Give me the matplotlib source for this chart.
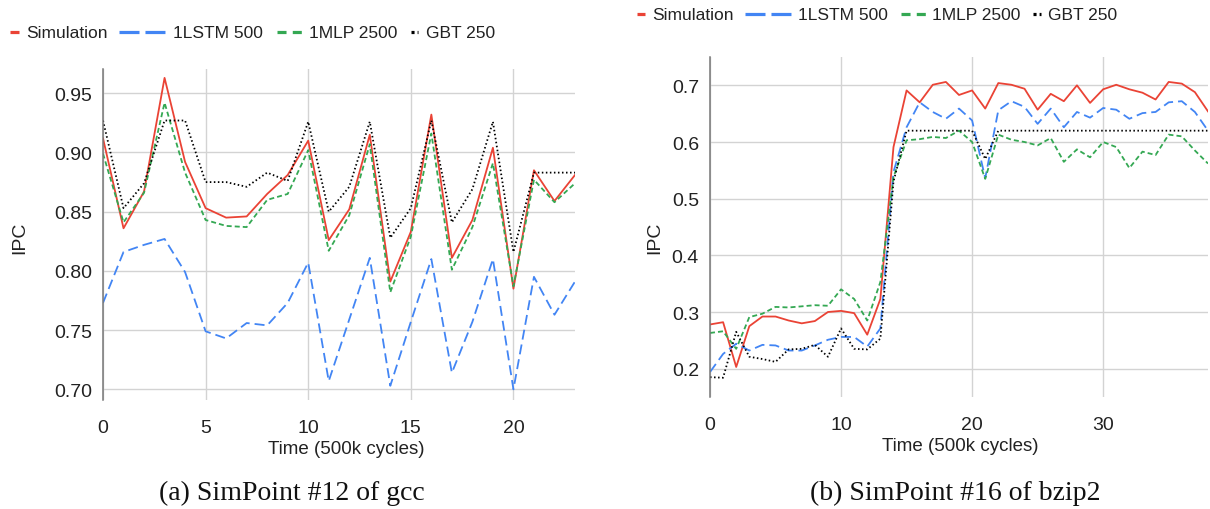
import numpy as np
import matplotlib
matplotlib.use("Agg")
import matplotlib.pyplot as plt
from matplotlib.lines import Line2D
from matplotlib.ticker import FormatStrFormatter

plt.rcParams['font.family'] = ['Liberation Sans', 'DejaVu Sans']
plt.rcParams['lines.scale_dashes'] = False

# (a) SimPoint #12 of gcc
gcc_t = list(range(24))
gcc_sim = [0.912, 0.836, 0.867, 0.963, 0.892, 0.853, 0.845, 0.846, 0.865, 0.881,
           0.910, 0.826, 0.852, 0.915, 0.791, 0.833, 0.932, 0.811, 0.843, 0.904,
           0.785, 0.885, 0.859, 0.881]
gcc_lstm = [0.773, 0.816, 0.822, 0.827, 0.799, 0.749, 0.743, 0.756, 0.754, 0.773,
            0.807, 0.707, 0.759, 0.811, 0.703, 0.757, 0.810, 0.714, 0.757, 0.810,
            0.700, 0.795, 0.763, 0.791]
gcc_mlp = [0.899, 0.841, 0.866, 0.942, 0.883, 0.843, 0.838, 0.837, 0.860, 0.865,
           0.902, 0.817, 0.847, 0.907, 0.782, 0.829, 0.916, 0.801, 0.837, 0.891,
           0.787, 0.877, 0.858, 0.874]
gcc_gbt = [0.927, 0.853, 0.874, 0.927, 0.927, 0.875, 0.875, 0.871, 0.883, 0.876,
           0.926, 0.850, 0.871, 0.926, 0.828, 0.853, 0.927, 0.841, 0.869, 0.926,
           0.816, 0.883, 0.883, 0.883]

# (b) SimPoint #16 of bzip2
bz_t = list(range(39))
bz_sim = [0.278, 0.282, 0.203, 0.275, 0.292, 0.292, 0.285, 0.280, 0.284, 0.300,
          0.302, 0.298, 0.260, 0.323, 0.591, 0.691, 0.670, 0.701, 0.706, 0.683,
          0.691, 0.659, 0.704, 0.701, 0.694, 0.657, 0.685, 0.672, 0.700, 0.669,
          0.693, 0.701, 0.693, 0.687, 0.675, 0.706, 0.703, 0.688, 0.654]
bz_lstm = [0.194, 0.226, 0.244, 0.232, 0.242, 0.241, 0.232, 0.232, 0.241, 0.251,
           0.256, 0.256, 0.239, 0.271, 0.547, 0.626, 0.670, 0.653, 0.641, 0.659,
           0.638, 0.536, 0.656, 0.672, 0.662, 0.632, 0.659, 0.626, 0.653, 0.643,
           0.660, 0.657, 0.641, 0.651, 0.653, 0.670, 0.672, 0.653, 0.620]
bz_mlp = [0.263, 0.266, 0.235, 0.291, 0.297, 0.309, 0.308, 0.310, 0.312, 0.311,
          0.340, 0.323, 0.285, 0.353, 0.538, 0.603, 0.605, 0.609, 0.607, 0.620,
          0.600, 0.535, 0.613, 0.604, 0.600, 0.594, 0.607, 0.565, 0.587, 0.573,
          0.600, 0.591, 0.554, 0.583, 0.577, 0.613, 0.610, 0.585, 0.562]
bz_gbt = [0.185, 0.184, 0.265, 0.221, 0.217, 0.212, 0.234, 0.235, 0.242, 0.221,
          0.271, 0.235, 0.234, 0.253, 0.530, 0.620, 0.620, 0.620, 0.620, 0.620,
          0.620, 0.570, 0.620, 0.620, 0.620, 0.620, 0.620, 0.620, 0.620, 0.620,
          0.620, 0.620, 0.620, 0.620, 0.620, 0.620, 0.620, 0.620, 0.620]

labels = ["Simulation", "1LSTM 500", "1MLP 2500", "GBT 250"]
colors = ["#EA4335", "#4285F4", "#34A853", "#000000"]
dashes = [None, (7.2, 3.6), (3.6, 2.2), (1.1, 1.8)]

W, H = 1210, 510
fig = plt.figure(figsize=(W / 100, H / 100), dpi=100)


def px_axes(l, t, r, b):
    return fig.add_axes([l / W, 1 - b / H, (r - l) / W, (b - t) / H])


def style(ax, xlim, ylim, xticks, yticks, fmt):
    ax.set_xlim(*xlim)
    ax.set_ylim(*ylim)
    ax.set_xticks(xticks)
    ax.set_yticks(yticks)
    ax.yaxis.set_major_formatter(FormatStrFormatter(fmt))
    ax.grid(True, color="#d3d3d3", linewidth=1.0)
    ax.set_axisbelow(True)
    for s in ["top", "right", "bottom"]:
        ax.spines[s].set_visible(False)
    ax.spines["left"].set_color("#777777")
    ax.spines["left"].set_linewidth(1.1)
    ax.tick_params(length=0, labelsize=14, colors="#222222")
    ax.tick_params(axis="x", pad=14)
    ax.tick_params(axis="y", pad=8)


def draw(ax, t, series):
    for y, c, d in zip(series, colors, dashes):
        ln, = ax.plot(t, y, color=c, linewidth=1.3)
        if d is not None:
            ln.set_dashes(d)


ax1 = px_axes(103, 70, 575, 401)
draw(ax1, gcc_t, [gcc_sim, gcc_lstm, gcc_mlp, gcc_gbt])
style(ax1, (0, 23), (0.691, 0.9705), [0, 5, 10, 15, 20],
      [0.70, 0.75, 0.80, 0.85, 0.90, 0.95], "%.2f")

ax2 = px_axes(710, 58, 1208, 398)
draw(ax2, bz_t, [bz_sim, bz_lstm, bz_mlp, bz_gbt])
style(ax2, (0, 38), (0.15, 0.75), [0, 10, 20, 30],
      [0.2, 0.3, 0.4, 0.5, 0.6, 0.7], "%.1f")

for cx, cy, s in [(20, 238, "IPC"), (655, 238, "IPC")]:
    fig.text(cx / W, 1 - cy / H, s, rotation=90, ha="center", va="center",
             fontsize=14, color="#222222")
for cx, cy in [(346, 450), (960, 447)]:
    fig.text(cx / W, 1 - cy / H, "Time (500k cycles)", ha="center", va="center",
             fontsize=13.5, color="#222222")

for cx, s in [(292, "(a) SimPoint #12 of gcc"), (955, "(b) SimPoint #16 of bzip2")]:
    fig.text(cx / W, 1 - 493 / H, s, ha="center", va="center", fontsize=20,
             family="Liberation Serif", color="#111111")

# legends drawn by hand so each key keeps its own length
leg_dashes = [None, (14.4, 4.3), (6.5, 4.5), (2.2, 2.2)]
leg_left = [(10, 19, 26), (119, 167, 173), (277, 303, 309), (411, 418, 426)]
leg_right = [(637, 645, 652), (745, 793, 798), (901, 926, 932), (1033, 1041, 1048)]
for ypx, spots in [(33, leg_left), (15, leg_right)]:
    yy = 1 - ypx / H
    for (x0, x1, xt), lab, c, d in zip(spots, labels, colors, leg_dashes):
        ln = Line2D([x0 / W, x1 / W], [yy, yy], transform=fig.transFigure,
                    color=c, linewidth=2.3, solid_capstyle="butt",
                    dash_capstyle="butt")
        if d is not None:
            ln.set_dashes(d)
        fig.add_artist(ln)
        fig.text(xt / W, yy, lab, ha="left", va="center", fontsize=12.5,
                 color="#222222")

fig.savefig("out.png", dpi=100)
